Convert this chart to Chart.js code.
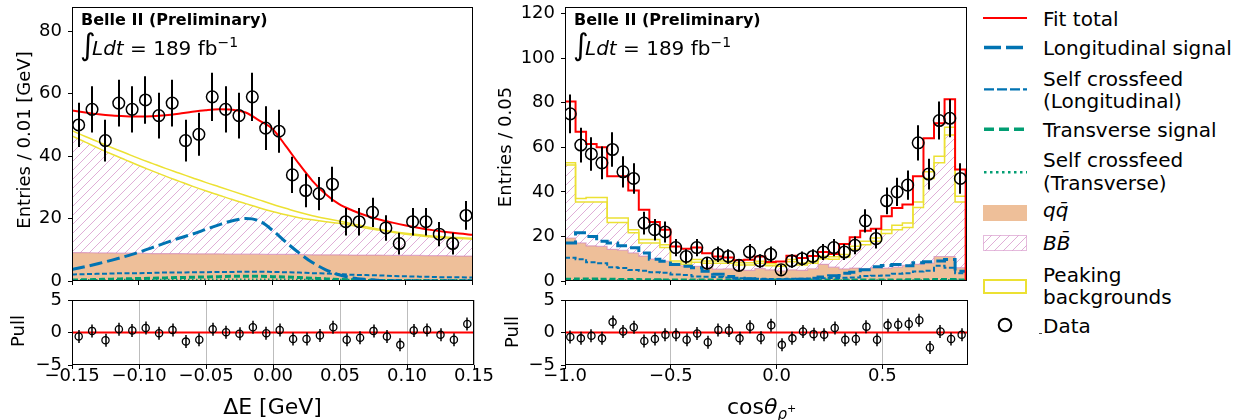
<!DOCTYPE html>
<html>
<head>
<meta charset="utf-8">
<title>Belle II fit projections</title>
<script src="https://cdn.jsdelivr.net/npm/chart.js@4.4.1/dist/chart.umd.min.js"></script>
<style>
  html, body { margin: 0; padding: 0; background: #fff; }
  body { position: relative; width: 1236px; height: 420px; overflow: hidden;
         font-family: "DejaVu Sans", sans-serif; color: #000; }
  canvas { position: absolute; }
  .txt { position: absolute; white-space: nowrap; line-height: 1; }
  .ylab { position: absolute; white-space: nowrap; font-size: 18px; line-height: 1;
          transform: translate(-50%, -50%) rotate(-90deg); }
  .xlab { position: absolute; white-space: nowrap; font-size: 22px; line-height: 1; }
  .belle { font-weight: bold; font-size: 16px; }
  .int { font-size: 30px; }
  .lumi { font-size: 20px; }
  .lumi sup { font-size: 14px; vertical-align: baseline; position: relative; top: -8px; }
  .xlab sub { font-size: 15px; vertical-align: baseline; position: relative; top: 5px; }
  .xlab sub sup { font-size: 11px; vertical-align: baseline; position: relative; top: -7px; }
  .leg { position: absolute; left: 1043px; font-size: 20px; line-height: 22.5px; white-space: nowrap; }
</style>
</head>
<body>

<canvas id="cLT" width="480" height="292" style="left:0;top:0;width:480px;height:292px"></canvas>
<canvas id="cLP" width="510" height="130" style="left:0;top:290px;width:510px;height:130px"></canvas>
<canvas id="cRT" width="484" height="292" style="left:490px;top:0;width:484px;height:292px"></canvas>
<canvas id="cRP" width="484" height="130" style="left:490px;top:290px;width:484px;height:130px"></canvas>

<!-- panel annotations -->
<div class="txt belle" style="left:81px;top:11.5px">Belle II (Preliminary)</div>
<div class="txt int" style="left:80px;top:29.6px">∫</div>
<div class="txt lumi" style="left:92px;top:38.1px"><i>Ldt</i> = 189 fb<sup>−1</sup></div>

<div class="txt belle" style="left:574px;top:11.5px">Belle II (Preliminary)</div>
<div class="txt int" style="left:573px;top:29.6px">∫</div>
<div class="txt lumi" style="left:585px;top:38.1px"><i>Ldt</i> = 189 fb<sup>−1</sup></div>

<!-- axis titles -->
<div class="ylab" style="left:23.5px;top:140px">Entries / 0.01 [GeV]</div>
<div class="ylab" style="left:18px;top:331px">Pull</div>
<div class="ylab" style="left:505px;top:146.7px">Entries / 0.05</div>
<div class="ylab" style="left:511.7px;top:331.7px">Pull</div>
<div class="xlab" style="left:272.5px;top:395.7px;transform:translateX(-50%)">ΔE [GeV]</div>
<div class="xlab" style="left:727px;top:396.4px">cos<i>θ</i><sub><i>ρ</i><sup>+</sup></sub></div>

<!-- legend -->
<svg width="70" height="340" style="position:absolute;left:975px;top:0">
  <defs>
    <pattern id="bbHatch" width="9" height="9" patternUnits="userSpaceOnUse">
      <path d="M0,9 L9,0 M-1,1 L1,-1 M8,10 L10,8" stroke="rgba(204,120,188,0.6)" stroke-width="1"/>
    </pattern>
  </defs>
  <line x1="8" y1="18" x2="52" y2="18" stroke="#ff0000" stroke-width="2.2"/>
  <line x1="9" y1="47.5" x2="52" y2="47.5" stroke="#0173b2" stroke-width="3.5" stroke-dasharray="17,5"/>
  <line x1="9" y1="89.3" x2="52" y2="89.3" stroke="#0173b2" stroke-width="2.2" stroke-dasharray="10,3"/>
  <line x1="9" y1="129.3" x2="52" y2="129.3" stroke="#029e73" stroke-width="3.5" stroke-dasharray="10,5"/>
  <line x1="9" y1="172.3" x2="52" y2="172.3" stroke="#029e73" stroke-width="2.5" stroke-dasharray="2.5,3.5"/>
  <rect x="8" y="205" width="44" height="16" fill="#eebf99"/>
  <rect x="8.5" y="235.5" width="43" height="15" fill="url(#bbHatch)" stroke="rgba(204,120,188,0.5)" stroke-width="1"/>
  <rect x="9" y="280" width="42" height="13" fill="none" stroke="#ece133" stroke-width="2"/>
  <circle cx="30" cy="325" r="6.3" fill="none" stroke="#000" stroke-width="2"/>
  <line x1="64" y1="333.5" x2="67" y2="333.5" stroke="#444" stroke-width="1"/>
</svg>
<div class="leg" style="top:7.8px">Fit total</div>
<div class="leg" style="top:36.8px">Longitudinal signal</div>
<div class="leg" style="top:67.8px">Self crossfeed<br>(Longitudinal)</div>
<div class="leg" style="top:119px">Transverse signal</div>
<div class="leg" style="top:149px">Self crossfeed<br>(Transverse)</div>
<div class="leg" style="top:198.8px"><i>q</i><i>q̄</i></div>
<div class="leg" style="top:231.8px"><i>B</i><i>B̄</i></div>
<div class="leg" style="top:263.5px">Peaking<br>backgrounds</div>
<div class="leg" style="top:314.8px">Data</div>

<script>
// ---------------- ΔE projection ----------------
const deltaEGrid = [-0.15, -0.14, -0.13, -0.12, -0.11, -0.10, -0.09, -0.08, -0.07, -0.06,
  -0.05, -0.04, -0.03, -0.02, -0.01, 0.00, 0.01, 0.02, 0.03, 0.04,
  0.05, 0.06, 0.07, 0.08, 0.09, 0.10, 0.11, 0.12, 0.13, 0.14, 0.15];
const deltaECenters = [-0.145, -0.135, -0.125, -0.115, -0.105, -0.095, -0.085, -0.075, -0.065, -0.055,
  -0.045, -0.035, -0.025, -0.015, -0.005, 0.005, 0.015, 0.025, 0.035, 0.045,
  0.055, 0.065, 0.075, 0.085, 0.095, 0.105, 0.115, 0.125, 0.135, 0.145];
const deltaECounts = [50, 55, 45, 57, 55, 58, 53, 57, 45, 47,
  59, 55, 53, 59, 49, 48, 34, 29, 28, 31,
  19, 19, 22, 17, 12, 19, 19, 15, 12, 21];
const deltaEErrors = [7.1, 7.4, 6.7, 7.5, 7.4, 7.6, 7.3, 7.5, 6.7, 6.9,
  7.7, 7.4, 7.3, 7.7, 7.0, 6.9, 5.8, 5.4, 5.3, 5.6,
  4.4, 4.4, 4.7, 4.1, 3.5, 4.4, 4.4, 3.9, 3.5, 4.6];
const deltaEPulls = [-0.6, 0.25, -1.2, 0.5, 0.3, 0.7, -0.1, 0.4, -1.4, -1.1,
  0.5, 0.05, -0.2, 0.8, -0.1, 0.4, -1.0, -1.0, -0.45, 0.8,
  -1.1, -0.8, 0.25, -0.6, -1.9, 0.3, 0.4, -0.35, -1.1, 1.3];
const deltaEFitTotal = [54.6, 54.0, 53.4, 53.0, 52.8, 52.7, 52.8, 53.1, 53.6, 54.2,
  54.7, 55.0, 54.9, 54.0, 51.5, 48.8, 43.3, 37.5, 32.1, 27.8,
  24.6, 22.6, 21.0, 19.7, 18.7, 17.8, 17.0, 16.3, 15.7, 15.2, 14.8];
const deltaEQQ = [9.1, 9.1, 9.0, 9.0, 8.9, 8.9, 8.8, 8.8, 8.8, 8.7,
  8.7, 8.7, 8.6, 8.6, 8.6, 8.5, 8.5, 8.5, 8.4, 8.4,
  8.4, 8.3, 8.3, 8.3, 8.2, 8.2, 8.2, 8.1, 8.1, 8.0, 8.0];
const deltaEBB = [37.4, 35.4, 33.5, 31.6, 29.9, 28.1, 26.5, 24.8, 23.2, 21.7,
  20.2, 18.8, 17.5, 16.2, 14.9, 13.8, 12.7, 11.8, 11.2, 10.6,
  10.1, 9.5, 8.7, 8.0, 7.4, 6.8, 6.3, 6.0, 5.7, 5.6, 5.4];
const deltaEPeaking = [1.7, 1.8, 2.0, 2.1, 2.2, 2.3, 2.4, 2.5, 2.6, 2.7,
  2.7, 2.7, 2.7, 2.6, 2.5, 2.3, 2.1, 1.7, 1.3, 1.0,
  0.7, 0.5, 0.4, 0.3, 0.3, 0.3, 0.3, 0.3, 0.3, 0.3, 0.3];
const deltaELongSig = [3.7, 4.6, 5.6, 6.7, 7.9, 9.2, 10.7, 12.2, 13.7, 15.0,
  16.5, 18.0, 19.3, 20.0, 19.3, 16.3, 12.5, 9.0, 5.9, 3.6,
  2.0, 1.0, 0.5, 0.2, 0.1, 0.05, 0.03, 0.02, 0.01, 0, 0];
const deltaELongCF = [2.1, 2.2, 2.3, 2.4, 2.5, 2.5, 2.6, 2.7, 2.7, 2.8,
  2.8, 2.9, 2.9, 3.0, 3.0, 2.9, 2.8, 2.7, 2.5, 2.4,
  2.2, 2.0, 1.9, 1.8, 1.6, 1.5, 1.4, 1.3, 1.2, 1.2, 1.1];
const deltaETransSig = [0.3, 0.4, 0.5, 0.6, 0.7, 0.8, 0.9, 1.0, 1.1, 1.2,
  1.3, 1.4, 1.5, 1.5, 1.5, 1.4, 1.3, 1.1, 0.9, 0.7,
  0.5, 0.4, 0.3, 0.2, 0.2, 0.1, 0.1, 0.1, 0.1, 0.1, 0.1];
const deltaETransCF = [0.3, 0.3, 0.3, 0.3, 0.4, 0.4, 0.4, 0.4, 0.4, 0.4,
  0.5, 0.5, 0.5, 0.5, 0.5, 0.5, 0.5, 0.4, 0.4, 0.4,
  0.4, 0.4, 0.3, 0.3, 0.3, 0.3, 0.3, 0.3, 0.3, 0.3, 0.3];

// ---------------- cosθ projection (step histograms, bin edges) ----------------
const cosEdges = [-1.0, -0.95, -0.9, -0.85, -0.8, -0.75, -0.7, -0.65, -0.6, -0.55,
  -0.5, -0.45, -0.4, -0.35, -0.3, -0.25, -0.2, -0.15, -0.1, -0.05,
  0.0, 0.05, 0.1, 0.15, 0.2, 0.25, 0.3, 0.35, 0.4, 0.45,
  0.5, 0.55, 0.6, 0.65, 0.7, 0.75, 0.8, 0.85, 0.9];
const cosCounts = [75, 61, 57, 53, 59, 49, 46, 26, 23, 22,
  15, 11, 15, 8, 12, 11, 7, 13, 9, 12,
  5, 9, 10, 11, 13, 15, 13, 16, 27, 19,
  36, 40, 43, 62, 48, 72, 73, 46];
const cosErrors = [8.7, 7.8, 7.5, 7.3, 7.7, 7.0, 6.8, 5.1, 4.8, 4.7,
  3.9, 3.3, 3.9, 2.8, 3.5, 3.3, 2.6, 3.6, 3.0, 3.5,
  2.2, 3.0, 3.2, 3.3, 3.6, 3.9, 3.6, 4.0, 5.2, 4.4,
  6.0, 6.3, 6.6, 7.9, 6.9, 8.5, 8.5, 6.8];
const cosPulls = [-0.7, -0.9, -0.5, -0.9, 1.6, 0.15, 0.8, -1.3, -1.0, -0.35,
  -0.35, -1.1, -0.15, -1.5, 0.4, 0.3, -0.9, 0.9, -0.8, 1.1,
  -1.9, -0.9, 0.15, -0.25, -0.35, 0.7, -1.1, -1.0, 0.9, -1.1,
  1.1, 1.2, 1.3, 1.9, -2.3, 0.15, -1.0, -0.35];
const cosFitTotal = [80.5, 67, 61.5, 60, 47, 47, 40.6, 32, 26.5, 23,
  15.5, 14.5, 15, 12.5, 11, 10.5, 9.3, 9.5, 11, 8.5,
  8.7, 11.3, 10.3, 11.2, 13, 12.1, 16.6, 19.6, 22.5, 23.4,
  29, 32.8, 34.3, 47, 64, 70.8, 81.5, 50];
const cosQQ = [19.3, 17.1, 15.8, 15.5, 14.2, 13.8, 12.6, 11.2, 9.8, 8.9,
  7.6, 6.8, 6.6, 6.0, 5.3, 5.5, 5.0, 4.8, 5.6, 5.0,
  4.5, 5.0, 4.8, 5.5, 7.5, 6.2, 5.4, 5.8, 5.5, 6.0,
  5.8, 6.2, 7.0, 7.5, 8.0, 11.0, 11.0, 6.0];
const cosBB = [32.7, 18.4, 19.7, 20.0, 12.1, 12.5, 9.0, 5.9, 7.3, 6.1,
  0.4, 0.7, 1.8, 2.0, 2.7, 2.5, 2.2, 2.4, 2.4, 1.8,
  2.1, 3.6, 2.4, 2.5, 2.5, 3.6, 5.4, 8.4, 10.8, 11.8,
  15.5, 16.8, 17.0, 25.5, 38.0, 42.0, 54.5, 29.5];
const cosPeaking = [1, 1.5, 2, 2, 2, 2, 1.4, 1.5, 1.5, 1.3,
  1, 1, 1.2, 1, 1, 1, 1, 1, 0.9, 0.9,
  0.8, 1, 0.9, 0.9, 1.1, 1.1, 1.1, 1.4, 1.5, 1.5,
  1.7, 2, 2, 2.5, 3, 3, 3.5, 2.5];
const cosLongSig = [17.1, 21.6, 20.0, 17.8, 17.1, 15.8, 14.9, 12.6, 9.8, 8.9,
  7.4, 6.6, 5.9, 4.4, 3.0, 2.0, 1.2, 1.0, 0.6, 0.5,
  0.5, 0.6, 0.8, 1.2, 1.8, 2.4, 3.5, 3.9, 5.1, 6.4,
  7.0, 7.4, 6.8, 8.2, 8.6, 9.0, 9.6, 4.4];
const cosLongCF = [10.4, 9.8, 8.4, 8.0, 6.2, 5.8, 4.9, 4.6, 3.9, 3.7,
  2.9, 2.7, 2.0, 1.9, 1.8, 1.6, 1.2, 1.1, 1.0, 0.9,
  0.9, 1.0, 1.0, 1.1, 1.2, 1.4, 1.5, 1.6, 2.2, 2.4,
  2.5, 3.3, 3.5, 4.3, 4.6, 6.8, 6.0, 3.5];
const cosTransSig = [0.8, 0.9, 0.9, 0.8, 0.8, 0.7, 0.7, 0.6, 0.6, 0.5,
  0.5, 0.5, 0.4, 0.4, 0.4, 0.4, 0.4, 0.4, 0.4, 0.4,
  0.4, 0.4, 0.4, 0.4, 0.4, 0.4, 0.4, 0.5, 0.5, 0.5,
  0.5, 0.5, 0.6, 0.6, 0.6, 0.7, 0.7, 0.5];
const cosTransCF = [0.4, 0.4, 0.4, 0.4, 0.3, 0.3, 0.3, 0.3, 0.3, 0.3,
  0.3, 0.3, 0.3, 0.2, 0.2, 0.2, 0.2, 0.2, 0.2, 0.2,
  0.2, 0.2, 0.2, 0.2, 0.2, 0.2, 0.3, 0.3, 0.3, 0.3,
  0.3, 0.3, 0.3, 0.3, 0.4, 0.4, 0.4, 0.3];

// ---------------- axis ticks ----------------
const deltaETicks = [-0.15, -0.10, -0.05, 0.00, 0.05, 0.10, 0.15];
const cosTicks = [-1.0, -0.5, 0.0, 0.5];
const deltaEYTicks = [0, 20, 40, 60, 80];
const cosYTicks = [0, 20, 40, 60, 80, 100, 120];
const pullTicks = [-5, 0, 5];
const pullError = 1;

// ---------------- styling ----------------
const FONT = '"DejaVu Sans", sans-serif';
Chart.defaults.font.family = FONT;
Chart.defaults.color = '#000';

const C = {
  red: '#ff0000', blue: '#0173b2', green: '#029e73', yellow: '#ece133',
  qq: '#eebf99', bbEdge: 'rgba(204,120,188,0.55)'
};

function hatchPattern(ctx) {
  const tile = document.createElement('canvas');
  tile.width = tile.height = 9;
  const g = tile.getContext('2d');
  g.strokeStyle = 'rgba(204,120,188,0.6)';
  g.lineWidth = 1;
  g.beginPath();
  g.moveTo(0, 9); g.lineTo(9, 0);
  g.moveTo(-1, 1); g.lineTo(1, -1);
  g.moveTo(8, 10); g.lineTo(10, 8);
  g.stroke();
  return ctx.createPattern(tile, 'repeat');
}

const minus = s => s.replace('-', '\u2212');

// helpers that turn value arrays into chart points
const linePts = (xs, ys) => xs.map((x, i) => ({ x, y: ys[i] }));
const stackSum = (...parts) => parts[0].map((_, i) => parts.reduce((s, p) => s + p[i], 0));
function stepPts(edges, ys, endY) {
  const pts = ys.map((y, i) => ({ x: edges[i], y }));
  pts.push({ x: edges[ys.length], y: endY === undefined ? ys[ys.length - 1] : endY });
  return pts;
}
const binCenters = edges => edges.slice(0, -1).map((e, i) => (e + edges[i + 1]) / 2);

// error bars of the data points, drawn through the y scale
const errorBarPlugin = {
  id: 'errorBars',
  afterDatasetsDraw(chart) {
    const { ctx, chartArea: a } = chart;
    const ys = chart.scales.y;
    chart.data.datasets.forEach((ds, di) => {
      if (!ds.errors) return;
      const meta = chart.getDatasetMeta(di);
      ctx.save();
      ctx.beginPath();
      ctx.rect(a.left, a.top, a.right - a.left, a.bottom - a.top);
      ctx.clip();
      ctx.strokeStyle = '#000';
      ctx.lineWidth = ds.errorWidth;
      ctx.beginPath();
      ds.data.forEach((p, i) => {
        const e = Array.isArray(ds.errors) ? ds.errors[i] : ds.errors;
        const x = Math.round(meta.data[i].x);
        ctx.moveTo(x, ys.getPixelForValue(p.y - e));
        ctx.lineTo(x, ys.getPixelForValue(p.y + e));
      });
      ctx.stroke();
      ctx.restore();
    });
  }
};

// box around the plotting area
const framePlugin = {
  id: 'frame',
  afterDraw(chart) {
    const { ctx, chartArea: a } = chart;
    ctx.save();
    ctx.strokeStyle = '#000';
    ctx.lineWidth = 1;
    const l = Math.round(a.left) + 0.5, t = Math.round(a.top) + 0.5;
    const r = Math.round(a.right) - 0.5, b = Math.round(a.bottom) - 0.5;
    ctx.strokeRect(l, t, r - l, b - t);
    ctx.restore();
  }
};

function zeroPad(s) { s.paddingLeft = 0; s.paddingRight = 0; s.paddingTop = 0; s.paddingBottom = 0; }

function yAxis(min, max, ticks, width) {
  return {
    type: 'linear', position: 'left', min, max,
    afterBuildTicks: s => { s.ticks = ticks.map(v => ({ value: v })); },
    afterFit: s => { s.width = width; zeroPad(s); },
    ticks: { autoSkip: false, padding: 6, font: { size: 18, lineHeight: 1 }, color: '#000',
             callback: v => minus(String(Math.round(v))) },
    grid: { drawOnChartArea: false, drawTicks: true, tickLength: 4, tickColor: '#000', tickWidth: 1 },
    border: { display: false }
  };
}

function xAxis(min, max, ticks, height, showLabels, digits, gridOn) {
  return {
    type: 'linear', position: 'bottom', min, max,
    afterBuildTicks: s => { s.ticks = ticks.map(v => ({ value: v })); },
    afterFit: s => { s.height = height; zeroPad(s); },
    ticks: { display: showLabels, autoSkip: false, maxRotation: 0, minRotation: 0, padding: -2,
             font: { size: 18, lineHeight: 1 }, color: '#000',
             callback: v => minus(Number(v).toFixed(digits)) },
    grid: { drawOnChartArea: gridOn, color: '#bdbdbd', lineWidth: 1, drawTicks: true,
            tickLength: 4, tickColor: '#000', tickWidth: 1 },
    border: { display: false }
  };
}

function baseOptions(padding, scales) {
  return {
    responsive: false, animation: false, devicePixelRatio: 1, events: [],
    layout: { padding },
    plugins: { legend: { display: false }, tooltip: { enabled: false } },
    scales
  };
}

const lineDefaults = { pointRadius: 0, pointHoverRadius: 0, fill: false };

function dataSet(pts, errors, radius, width, errorWidth) {
  return {
    data: pts, errors, errorWidth, showLine: false,
    pointRadius: radius, pointHoverRadius: radius, pointStyle: 'circle',
    pointBorderColor: '#000', pointBackgroundColor: 'rgba(0,0,0,0)', pointBorderWidth: width
  };
}

// component datasets, listed from top-most to bottom-most
function componentSets(ctx, pts, fitPts, shape) {
  return [
    Object.assign({ data: fitPts, borderColor: C.red, borderWidth: 2 }, lineDefaults, shape),
    Object.assign({ data: pts.longSig, borderColor: C.blue, borderWidth: 3, borderDash: [13, 5] }, lineDefaults, shape),
    Object.assign({ data: pts.longCF, borderColor: C.blue, borderWidth: 2, borderDash: [5, 2.5] }, lineDefaults, shape),
    Object.assign({ data: pts.transSig, borderColor: C.green, borderWidth: 3, borderDash: [6, 3] }, lineDefaults, shape),
    Object.assign({ data: pts.transCF, borderColor: C.green, borderWidth: 2, borderDash: [1.5, 2.5] }, lineDefaults, shape),
    Object.assign({ data: pts.peakTop, borderColor: C.yellow, borderWidth: 1.5 }, lineDefaults, shape),
    Object.assign({}, lineDefaults, shape, { data: pts.bbTop, borderColor: C.yellow, borderWidth: 1.5,
      fill: 8, backgroundColor: hatchPattern(ctx) }),
    Object.assign({}, lineDefaults, shape, { data: pts.qqTop, borderColor: C.bbEdge, borderWidth: 1.2,
      fill: 'origin', backgroundColor: C.qq })
  ];
}

// ---- ΔE main panel ----
{
  const qqTop = deltaEQQ;
  const bbTop = stackSum(deltaEQQ, deltaEBB);
  const peakTop = stackSum(deltaEQQ, deltaEBB, deltaEPeaking);
  const pts = {
    qqTop: linePts(deltaEGrid, qqTop), bbTop: linePts(deltaEGrid, bbTop), peakTop: linePts(deltaEGrid, peakTop),
    longSig: linePts(deltaEGrid, deltaELongSig), longCF: linePts(deltaEGrid, deltaELongCF),
    transSig: linePts(deltaEGrid, deltaETransSig), transCF: linePts(deltaEGrid, deltaETransCF)
  };
  const ctx = document.getElementById('cLT').getContext('2d');
  new Chart(ctx, {
    type: 'line',
    data: { datasets: [dataSet(linePts(deltaECenters, deltaECounts), deltaEErrors, 5.8, 1.5, 2)]
      .concat(componentSets(ctx, pts, linePts(deltaEGrid, deltaEFitTotal), { cubicInterpolationMode: 'monotone' })) },
    options: baseOptions({ top: 7, right: 6, left: 0, bottom: 0 }, {
      x: xAxis(-0.15, 0.15, deltaETicks, 11, false, 2, false),
      y: yAxis(0, 87.7, deltaEYTicks, 72)
    }),
    plugins: [errorBarPlugin, framePlugin]
  });
}

// ---- ΔE pull panel ----
new Chart(document.getElementById('cLP'), {
  type: 'line',
  data: { datasets: [
    dataSet(linePts(deltaECenters, deltaEPulls), pullError, 3.6, 1.3, 1.5),
    Object.assign({ data: [{ x: -0.15, y: 0 }, { x: 0.15, y: 0 }], borderColor: C.red, borderWidth: 2 }, lineDefaults)
  ] },
  options: baseOptions({ top: 10, right: 36, left: 0, bottom: 0 }, {
    x: xAxis(-0.15, 0.15, deltaETicks, 55, true, 2, true),
    y: yAxis(-5, 5, pullTicks, 72)
  }),
  plugins: [errorBarPlugin, framePlugin]
});

// ---- cosθ main panel ----
{
  const centers = binCenters(cosEdges);
  const pts = {
    qqTop: stepPts(cosEdges, cosQQ),
    bbTop: stepPts(cosEdges, stackSum(cosQQ, cosBB)),
    peakTop: stepPts(cosEdges, stackSum(cosQQ, cosBB, cosPeaking)),
    longSig: stepPts(cosEdges, cosLongSig), longCF: stepPts(cosEdges, cosLongCF),
    transSig: stepPts(cosEdges, cosTransSig), transCF: stepPts(cosEdges, cosTransCF)
  };
  const ctx = document.getElementById('cRT').getContext('2d');
  new Chart(ctx, {
    type: 'line',
    data: { datasets: [dataSet(linePts(centers, cosCounts), cosErrors, 5.8, 1.5, 2)]
      .concat(componentSets(ctx, pts, stepPts(cosEdges, cosFitTotal, 0), { stepped: 'before', tension: 0 })) },
    options: baseOptions({ top: 7, right: 6, left: 0, bottom: 0 }, {
      x: xAxis(-1.0, 0.905, cosTicks, 11, false, 1, false),
      y: yAxis(0, 122.8, cosYTicks, 75)
    }),
    plugins: [errorBarPlugin, framePlugin]
  });
}

// ---- cosθ pull panel ----
new Chart(document.getElementById('cRP'), {
  type: 'line',
  data: { datasets: [
    dataSet(linePts(binCenters(cosEdges), cosPulls), pullError, 3.6, 1.3, 1.5),
    Object.assign({ data: [{ x: -1.0, y: 0 }, { x: 0.905, y: 0 }], borderColor: C.red, borderWidth: 2 }, lineDefaults)
  ] },
  options: baseOptions({ top: 10, right: 6, left: 0, bottom: 0 }, {
    x: xAxis(-1.0, 0.905, cosTicks, 55, true, 1, true),
    y: yAxis(-5, 5, pullTicks, 75)
  }),
  plugins: [errorBarPlugin, framePlugin]
});
</script>
</body>
</html>
